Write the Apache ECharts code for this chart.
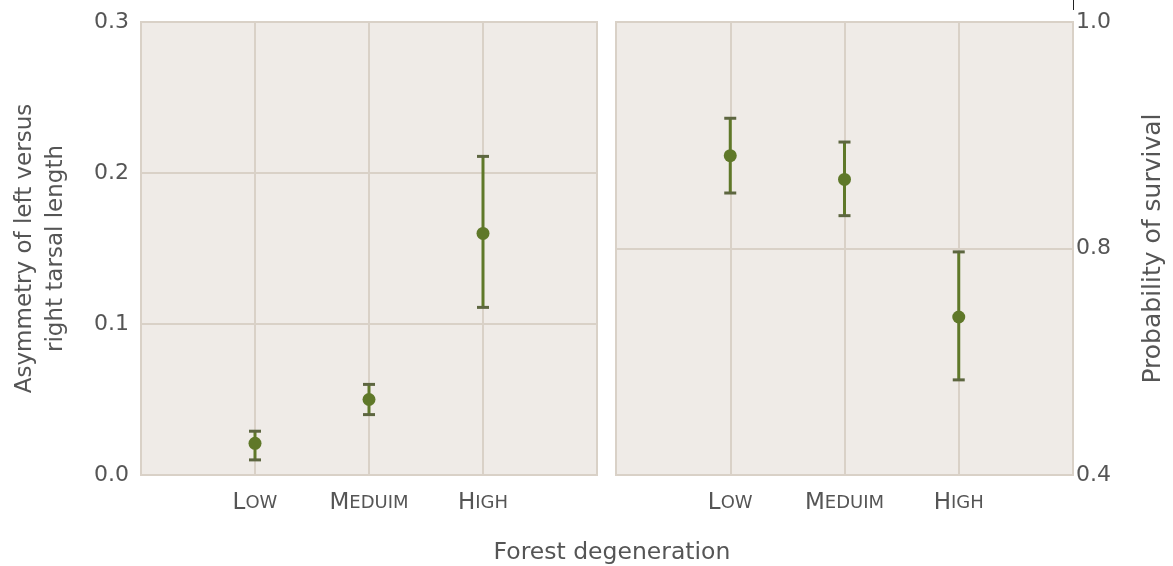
<!DOCTYPE html>
<html>
<head>
<meta charset="utf-8">
<script src="https://cdn.jsdelivr.net/npm/echarts@6/dist/echarts.min.js"></script>
<style>
html,body{margin:0;padding:0;background:#fff;}
#chart{width:1173px;height:566px;}
</style>
</head>
<body>
<div id="chart"></div>
<script>
// ---- data ----
const categories = ['Low', 'Meduim', 'High'];
const asymMean = [0.021, 0.050, 0.160];
const asymLow  = [0.010, 0.040, 0.111];
const asymHigh = [0.029, 0.060, 0.211];
const survMean = [0.882, 0.861, 0.679];
const survLow  = [0.849, 0.829, 0.568];
const survHigh = [0.915, 0.894, 0.794];
const leftTicks = ['0.0', '0.1', '0.2', '0.3'];
const rightTicks = ['0.4', '0.8', '1.0'];

// right axis is piecewise: 0.4..0.8 fills the lower half, 0.8..1.0 the upper half
function toAxis(p) { return p <= 0.8 ? (p - 0.4) / 0.4 : 1 + (p - 0.8) / 0.2; }

const GREEN = '#5f7829';
const CAP = '#5d6640';
const GRIDC = '#d9d1c7';
const BG = '#efebe7';
const TXT = '#555555';
const FONT = "'DejaVu Sans', 'Open Sans', sans-serif";

const xPos = categories.map((c, i) => i + 1);

function errItem(params, api) {
  const x = api.value(0), lo = api.value(1), hi = api.value(2);
  const a = api.coord([x, lo]), b = api.coord([x, hi]);
  const hw = 6;
  return {
    type: 'group',
    children: [
      { type: 'line', shape: { x1: a[0], y1: a[1], x2: b[0], y2: b[1] }, style: { stroke: GREEN, lineWidth: 3 } },
      { type: 'line', shape: { x1: a[0] - hw, y1: a[1], x2: a[0] + hw, y2: a[1] }, style: { stroke: CAP, lineWidth: 3 } },
      { type: 'line', shape: { x1: b[0] - hw, y1: b[1], x2: b[0] + hw, y2: b[1] }, style: { stroke: CAP, lineWidth: 3 } }
    ]
  };
}

function catLabel(v) {
  const i = Math.round(v) - 1;
  if (Math.abs(v - Math.round(v)) > 1e-6 || i < 0 || i >= categories.length) return '';
  const c = categories[i].toUpperCase();
  return '{a|' + c[0] + '}{b|' + c.slice(1) + '}';
}

const xAxisBase = {
  type: 'value', min: 0, max: 4, interval: 1,
  axisLine: { show: false }, axisTick: { show: false },
  splitLine: { show: true, lineStyle: { color: GRIDC, width: 2 } },
  axisLabel: {
    formatter: catLabel, margin: 17,
    rich: {
      a: { fontFamily: FONT, fontSize: 23, color: TXT },
      b: { fontFamily: FONT, fontSize: 18, color: TXT }
    }
  }
};

const gridBase = { top: 22, height: 453, show: true, backgroundColor: BG, borderColor: GRIDC, borderWidth: 2,
  containLabel: false, outerBoundsMode: 'none' };

const option = {
  animation: false,
  backgroundColor: '#ffffff',
  grid: [
    Object.assign({ left: 141, width: 456 }, gridBase),
    Object.assign({ left: 616, width: 457 }, gridBase)
  ],
  xAxis: [
    Object.assign({ gridIndex: 0 }, xAxisBase),
    Object.assign({ gridIndex: 1 }, xAxisBase)
  ],
  yAxis: [
    {
      gridIndex: 0, type: 'value', min: 0, max: 0.3, interval: 0.1,
      axisLine: { show: false }, axisTick: { show: false },
      splitLine: { show: true, lineStyle: { color: GRIDC, width: 2 } },
      axisLabel: { formatter: (v) => leftTicks[Math.round(v * 10)], fontFamily: FONT, fontSize: 22, color: TXT, margin: 12 },
      name: 'Asymmetry of left versus\nright tarsal length',
      nameLocation: 'middle', nameRotate: 90, nameGap: 69,
      nameTextStyle: { fontFamily: FONT, fontSize: 23, color: TXT, lineHeight: 31, align: 'center' }
    },
    {
      gridIndex: 1, type: 'value', min: 0, max: 2, interval: 1, position: 'right',
      axisLine: { show: false }, axisTick: { show: false },
      splitLine: { show: true, lineStyle: { color: GRIDC, width: 2 } },
      axisLabel: { formatter: (v) => rightTicks[Math.round(v)], fontFamily: FONT, fontSize: 22, color: TXT, margin: 3 },
      name: 'Probability of survival',
      nameLocation: 'middle', nameRotate: 90, nameGap: 68,
      nameTextStyle: { fontFamily: FONT, fontSize: 25, color: TXT }
    }
  ],
  graphic: [
    { type: 'text', x: 612, y: 553,
      style: { text: 'Forest degeneration', fontFamily: FONT, fontSize: 23.5, fill: TXT, align: 'center', verticalAlign: 'middle' } },
    { type: 'line', shape: { x1: 1073.5, y1: 0, x2: 1073.5, y2: 10 }, style: { stroke: '#222', lineWidth: 1 } }
  ],
  series: [
    { type: 'custom', xAxisIndex: 0, yAxisIndex: 0, renderItem: errItem,
      data: xPos.map((x, i) => [x, asymLow[i], asymHigh[i]]), z: 3 },
    { type: 'scatter', xAxisIndex: 0, yAxisIndex: 0, symbolSize: 13,
      itemStyle: { color: GREEN, opacity: 1 },
      data: xPos.map((x, i) => [x, asymMean[i]]), z: 4 },
    { type: 'custom', xAxisIndex: 1, yAxisIndex: 1, renderItem: errItem,
      data: xPos.map((x, i) => [x, toAxis(survLow[i]), toAxis(survHigh[i])]), z: 3 },
    { type: 'scatter', xAxisIndex: 1, yAxisIndex: 1, symbolSize: 13,
      itemStyle: { color: GREEN, opacity: 1 },
      data: xPos.map((x, i) => [x, toAxis(survMean[i])]), z: 4 }
  ]
};

const chart = echarts.init(document.getElementById('chart'), null, { renderer: 'canvas' });
chart.setOption(option);
</script>
</body>
</html>
